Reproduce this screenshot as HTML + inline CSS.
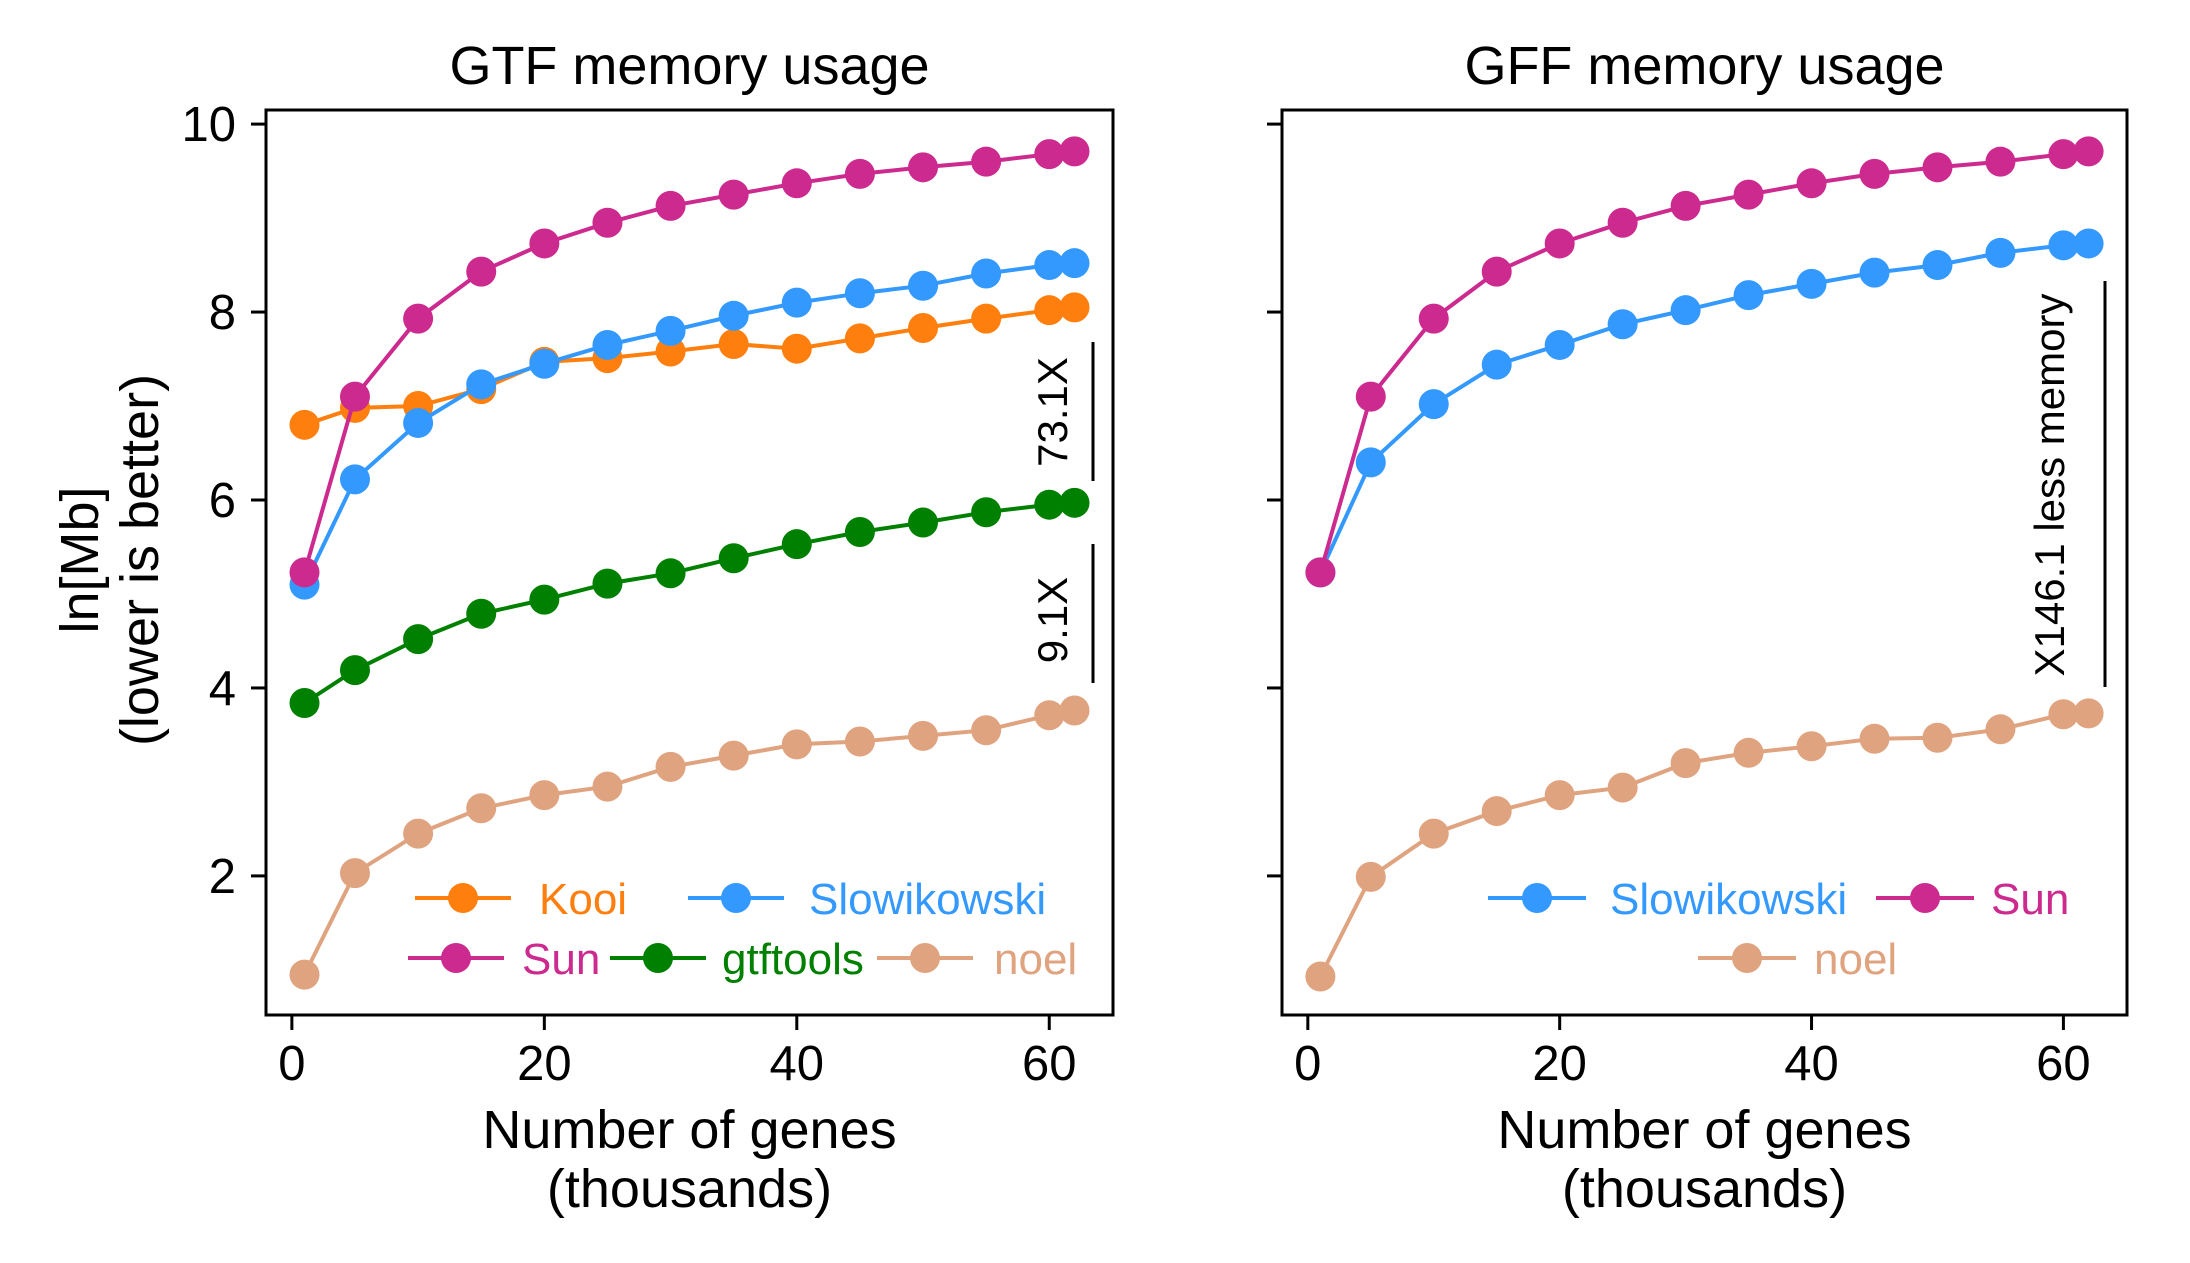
<!DOCTYPE html>
<html><head><meta charset="utf-8"><style>
html,body{margin:0;padding:0;background:#fff}
svg{display:block;font-family:"Liberation Sans",Arial,sans-serif}
</style></head><body>
<svg id="chart" width="2190" height="1263" viewBox="0 0 2190 1263" xmlns="http://www.w3.org/2000/svg"></svg>
<script>
const genes = [1,5,10,15,20,25,30,35,40,45,50,55,60,62];
const xTicks = [0,20,40,60];
const yTicks = [2,4,6,8,10];
const gtfKooi = [6.8,6.98,7.0,7.18,7.47,7.51,7.58,7.66,7.61,7.72,7.83,7.93,8.02,8.05];
const gtfSlow = [5.1,6.22,6.82,7.23,7.45,7.65,7.8,7.96,8.1,8.2,8.28,8.41,8.5,8.52];
const gtfSun = [5.23,7.1,7.93,8.43,8.73,8.95,9.13,9.25,9.37,9.47,9.54,9.6,9.68,9.71];
const gtfTools = [3.84,4.19,4.52,4.79,4.94,5.11,5.22,5.38,5.53,5.66,5.76,5.87,5.95,5.97];
const gtfNoel = [0.95,2.03,2.45,2.72,2.86,2.95,3.16,3.28,3.4,3.43,3.49,3.55,3.71,3.76];
const gffSlow = [5.23,6.4,7.02,7.44,7.65,7.87,8.02,8.18,8.3,8.42,8.5,8.63,8.71,8.73];
const gffSun = [5.23,7.1,7.93,8.43,8.73,8.95,9.13,9.25,9.37,9.47,9.54,9.6,9.68,9.71];
const gffNoel = [0.93,1.99,2.45,2.69,2.86,2.94,3.2,3.31,3.38,3.46,3.47,3.56,3.72,3.73];

const C = {Kooi:'#ff7f0e',Slowikowski:'#3399ff',Sun:'#cc2a8e',gtftools:'#008000',noel:'#e0a37f'};
const NS='http://www.w3.org/2000/svg';
const svg=document.getElementById('chart');
const XMIN=-2.05,XMAX=65.05,YMIN=0.52,YMAX=10.15,TOP=110,BOT=1015;
const R=15, LW=4;
function mk(tag,attrs,parent){const e=document.createElementNS(NS,tag);for(const k in attrs)e.setAttribute(k,attrs[k]);(parent||svg).appendChild(e);return e;}
function txt(s,attrs,parent){const e=mk('text',attrs,parent);e.textContent=s;return e;}

function panel(id,left,right,title,series,showY){
  const g=mk('g',{});
  
  
  const sx=v=>left+(v-XMIN)/(XMAX-XMIN)*(right-left);
  const sy=v=>BOT-(v-YMIN)/(YMAX-YMIN)*(BOT-TOP);
  const t=txt(title,{x:(left+right)/2,y:84,'text-anchor':'middle','font-size':54},g);
  
  
  xTicks.forEach(v=>{
    const x=sx(v);
    const tk=mk('line',{x1:x,x2:x,y1:BOT,y2:BOT+15,stroke:'#000','stroke-width':3},g);
    
    
    const l=txt(String(v),{x:x,y:1080,'text-anchor':'middle','font-size':49},g);
    
    
  });
  yTicks.forEach(v=>{
    const y=sy(v);
    const tk=mk('line',{x1:left-15,x2:left,y1:y,y2:y,stroke:'#000','stroke-width':3},g);
    
    
    if(showY){
      const l=txt(String(v),{x:left-30,y:y+17,'text-anchor':'end','font-size':49},g);
      
      
    }
  });
  const xl=txt('Number of genes',{x:(left+right)/2,y:1148,'text-anchor':'middle','font-size':54},g);
  
  
  const xl2=txt('(thousands)',{x:(left+right)/2,y:1207,'text-anchor':'middle','font-size':54},g);
  
  
  series.forEach(s=>{
    const sg=mk('g',{},g);
    
    
    const pts=genes.map((x,i)=>sx(x).toFixed(1)+','+sy(s.vals[i]).toFixed(1)).join(' ');
    const pl=mk('polyline',{points:pts,fill:'none',stroke:C[s.name],'stroke-width':LW},sg);
    
    
    genes.forEach((x,i)=>{
      const c=mk('circle',{cx:sx(x),cy:sy(s.vals[i]),r:R,fill:C[s.name]},sg);
      
      
    });
  });
  const fr=mk('rect',{x:left,y:TOP,width:right-left,height:BOT-TOP,fill:'none',stroke:'#000','stroke-width':3},g);
  
  
  return g;
}
function legendItem(name,lx1,lx2,tx,y){
  const g=mk('g',{});
  
  
  mk('line',{x1:lx1,x2:lx2,y1:y,y2:y,stroke:C[name],'stroke-width':LW},g);
  mk('circle',{cx:(lx1+lx2)/2,cy:y,r:R,fill:C[name]},g);
  txt(name,{x:tx,y:y+16,'font-size':44,fill:C[name]},g);
}
function annot(label,tx,ty,lx,ly1,ly2,len){
  const g=mk('g',{});
  
  
  const a={x:0,y:0,'text-anchor':'middle','font-size':42,transform:`translate(${tx},${ty}) rotate(-90) translate(0,15)`};
  if(len){a.textLength=len;a.lengthAdjust='spacingAndGlyphs';}
  txt(label,a,g);
  mk('line',{x1:lx,x2:lx,y1:ly1,y2:ly2,stroke:'#000','stroke-width':3},g);
}

panel('gtf',266,1113,'GTF memory usage',[
  {name:'Kooi',vals:gtfKooi},{name:'Slowikowski',vals:gtfSlow},{name:'Sun',vals:gtfSun},
  {name:'gtftools',vals:gtfTools},{name:'noel',vals:gtfNoel}],true);
panel('gff',1282,2127,'GFF memory usage',[
  {name:'Slowikowski',vals:gffSlow},{name:'Sun',vals:gffSun},{name:'noel',vals:gffNoel}],false);

const yl=txt('ln[Mb]',{x:0,y:0,'text-anchor':'middle','font-size':54,transform:'translate(98,560) rotate(-90)'});


const yl2=txt('(lower is better)',{x:0,y:0,'text-anchor':'middle','font-size':54,transform:'translate(158,560) rotate(-90)'});



legendItem('Kooi',415,511,539,898);
legendItem('Slowikowski',688,784,809,898);
legendItem('Sun',408,504,522,958);
legendItem('gtftools',610,706,722,958);
legendItem('noel',877,973,994,958);
legendItem('Slowikowski',1488,1586,1610,898);
legendItem('Sun',1876,1974,1991,898);
legendItem('noel',1698,1796,1814,958);

annot('73.1X',1052,412,1093,342,481);
annot('9.1X',1052,620,1093,544,683);
annot('X146.1 less memory',2049,485,2105,281,687,383);
</script>
</body></html>
